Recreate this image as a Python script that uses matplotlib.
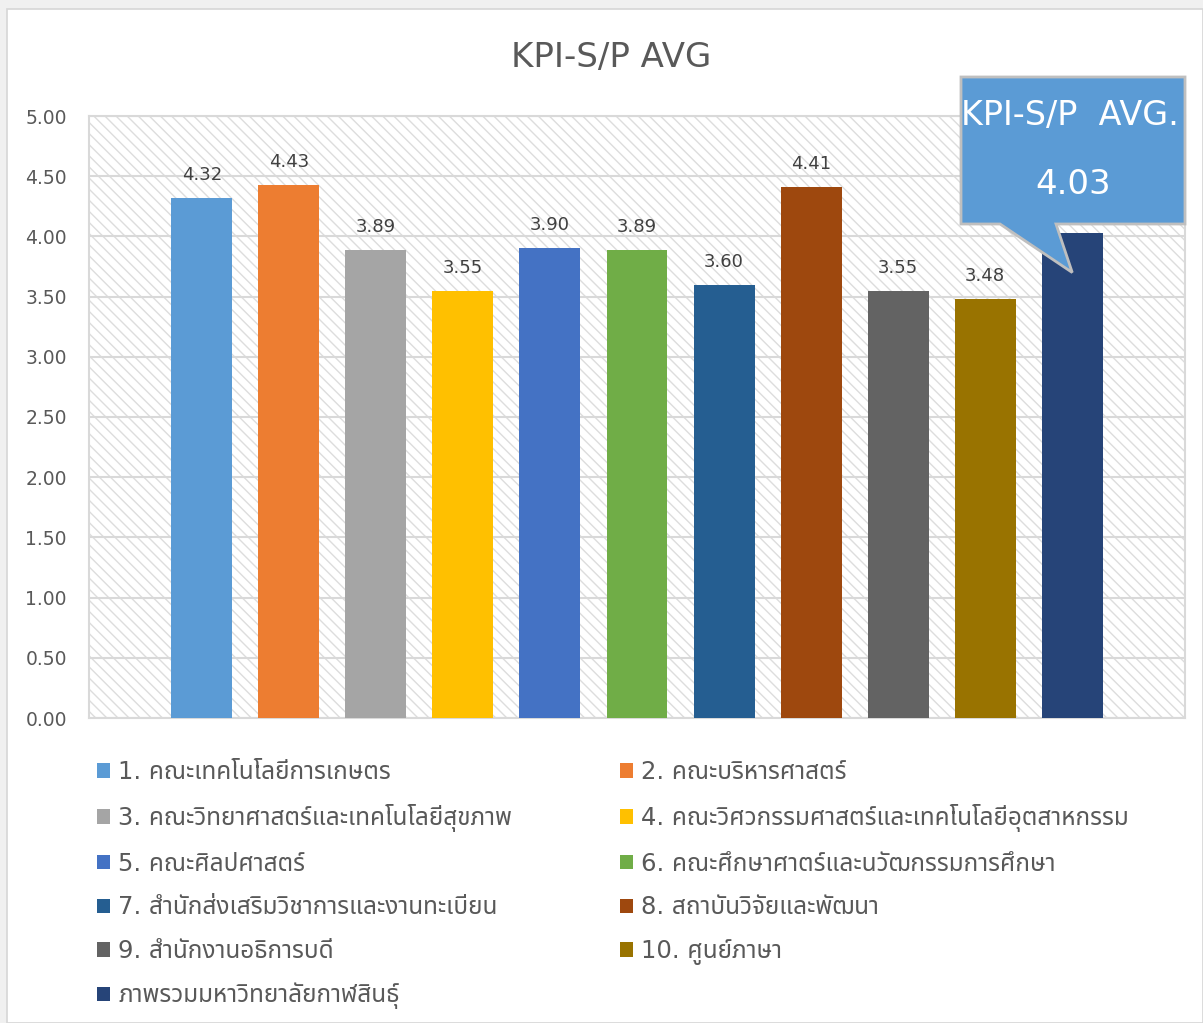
import matplotlib
matplotlib.use("Agg")
import matplotlib.pyplot as plt
from matplotlib import font_manager
from matplotlib.ft2font import FT2Font
from matplotlib.patches import Rectangle, Polygon
import numpy as np

# Data
labels = [
    "1. คณะเทคโนโลยีการเกษตร",
    "2. คณะบริหารศาสตร์",
    "3. คณะวิทยาศาสตร์และเทคโนโลยีสุขภาพ",
    "4. คณะวิศวกรรมศาสตร์และเทคโนโลยีอุตสาหกรรม",
    "5. คณะศิลปศาสตร์",
    "6. คณะศึกษาศาตร์และนวัฒกรรมการศึกษา",
    "7. สำนักส่งเสริมวิชาการและงานทะเบียน",
    "8. สถาบันวิจัยและพัฒนา",
    "9. สำนักงานอธิการบดี",
    "10. ศูนย์ภาษา",
    "ภาพรวมมหาวิทยาลัยกาฬสินธุ์",
]
values = [4.32, 4.43, 3.89, 3.55, 3.90, 3.89, 3.60, 4.41, 3.55, 3.48, 4.03]
colors = ["#5B9BD5", "#ED7D31", "#A5A5A5", "#FFC000", "#4472C4", "#70AD47",
          "#255E91", "#9E480E", "#636363", "#997300", "#264478"]
yticks = [0, 0.5, 1.0, 1.5, 2.0, 2.5, 3.0, 3.5, 4.0, 4.5, 5.0]
title = "KPI-S/P AVG"
callout_title = "KPI-S/P  AVG."
avg_value = 4.03

W, H = 1203, 1023


# Look for an installed font that has Thai glyphs
def find_thai_font():
    found = []
    for f in font_manager.fontManager.ttflist:
        try:
            if 0x0E04 in FT2Font(f.fname).get_charmap():
                found.append(f.name)
        except Exception:
            pass
    for pref in ["Tahoma", "Leelawadee UI", "Noto Sans Thai", "Loma", "Garuda", "Sarabun"]:
        if pref in found:
            return pref
    return found[0] if found else None


thai = find_thai_font()
families = ["DejaVu Sans"] + ([thai] if thai else [])
plt.rcParams["font.family"] = families
plt.rcParams["hatch.linewidth"] = 1.0


def fx(px):
    return px / W


def fy(py):
    return 1 - py / H


fig = plt.figure(figsize=(W / 100, H / 100), dpi=100, facecolor="#F0F0F0")

# white chart area with thin border
fig.add_artist(Rectangle((fx(7), 0), 1 - fx(7), fy(9), transform=fig.transFigure,
                         facecolor="white", edgecolor="#D6D6D6", linewidth=1.2, zorder=-10))

ax = fig.add_axes([fx(89), fy(718), fx(1185) - fx(89), fy(116) - fy(718)])
ax.set_facecolor("white")
ax.add_patch(Rectangle((0, 0), 1, 1, transform=ax.transAxes, facecolor="white",
                       edgecolor="#DDDDDD", hatch="\\\\\\", linewidth=0, zorder=0))

x = np.arange(len(values))
bars = ax.bar(x, values, width=0.70, color=colors, zorder=3)

for xi, v in zip(x, values):
    ax.annotate(f"{v:.2f}", (xi, v), xytext=(0, 13), textcoords="offset points",
                ha="center", va="baseline", fontsize=13, color="#404040")

ax.set_xlim(-1.295, 11.295)
ax.set_ylim(0, 5)
ax.set_yticks(yticks)
ax.set_yticklabels([f"{t:.2f}" for t in yticks])
ax.set_xticks([])
ax.tick_params(axis="y", length=0, pad=16, labelsize=13.5, labelcolor="#595959")
ax.grid(axis="y", color="#D9D9D9", linewidth=1.5, zorder=1)
ax.set_axisbelow(True)
for s in ax.spines.values():
    s.set_color("#D9D9D9")
    s.set_linewidth(1.5)

fig.text(fx(611), fy(58), title, ha="center", va="center", fontsize=24.5, color="#595959")

# callout box pointing at the overall average bar
fig.canvas.draw()
tip = ax.transData.transform((x[-1], 3.70))
tip_f = fig.transFigure.inverted().transform(tip)
pts = [(fx(961), fy(77)), (fx(1185), fy(77)), (fx(1185), fy(224)), (fx(1056), fy(224)),
       tuple(tip_f), (fx(1000), fy(224)), (fx(961), fy(224))]
fig.add_artist(Polygon(pts, closed=True, transform=fig.transFigure, facecolor="#5B9BD5",
                       edgecolor="#BFBFBF", linewidth=2, zorder=5))
fig.text(fx(1070), fy(115), callout_title, ha="center", va="center", fontsize=24,
         color="white", zorder=6)
fig.text(fx(1073), fy(184), f"{avg_value:.2f}", ha="center", va="center", fontsize=24.5,
         color="white", zorder=6)

# legend in two columns, read row by row
handles = list(bars.patches)
for h, lab in zip(handles, labels):
    h.set_label(lab)
left = [handles[i] for i in range(0, len(handles), 2)]
right = [handles[i] for i in range(1, len(handles), 2)]
for group, xpos in [(left, 90), (right, 613)]:
    fig.legend(handles=group, labels=[h.get_label() for h in group], loc="upper left",
               bbox_to_anchor=(fx(xpos), fy(753)), frameon=False, fontsize=17.5,
               labelcolor="#595959", handlelength=0.54, handleheight=0.54,
               handletextpad=0.32, labelspacing=0.81, borderaxespad=0, borderpad=0.3)

fig.savefig("out.png", dpi=100, facecolor=fig.get_facecolor())
